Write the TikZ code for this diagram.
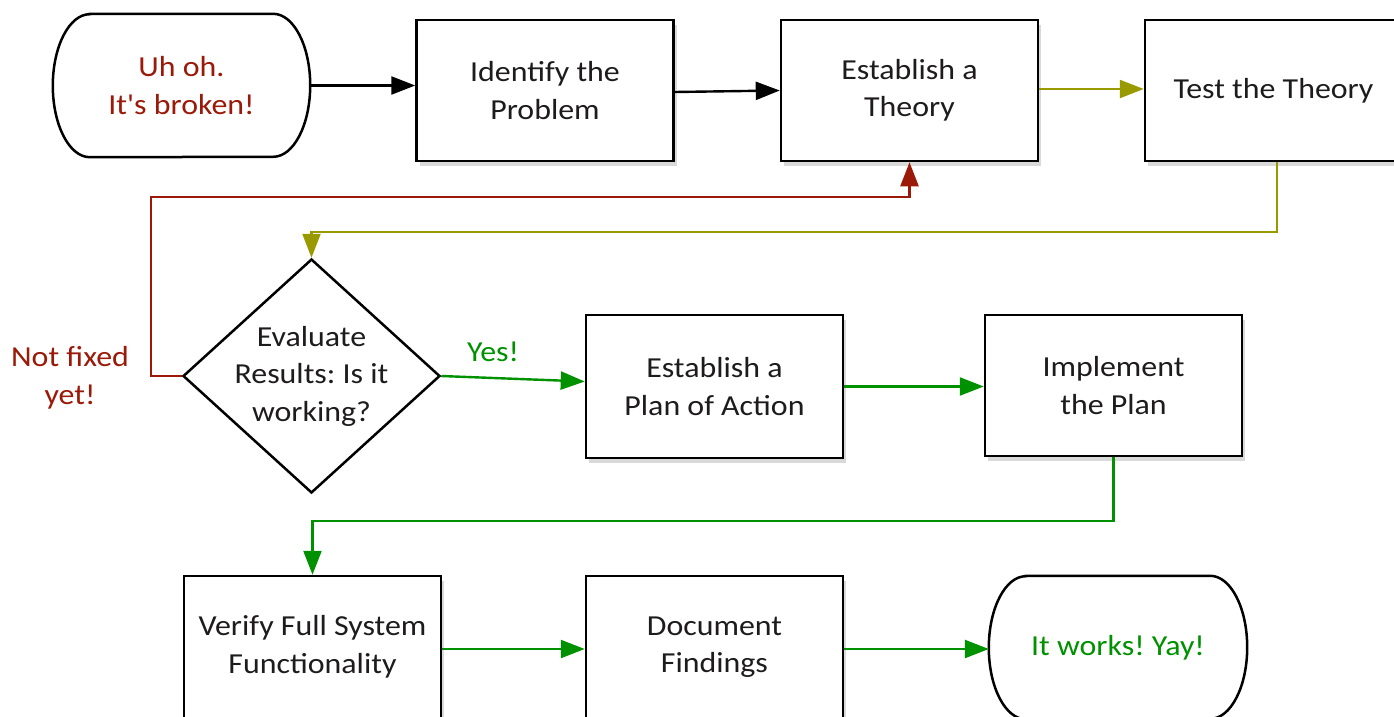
\documentclass[tikz,border=0pt]{standalone}
\usepackage{fontspec}
\setmainfont{Carlito}[FakeStretch=1.1, Ligatures=TeXOff]
\usetikzlibrary{arrows.meta,shapes.geometric,shadows,calc}
\definecolor{txt}{RGB}{30,27,28}
\definecolor{dred}{RGB}{155,25,8}
\definecolor{oliv}{RGB}{153,153,0}
\definecolor{grn}{RGB}{0,145,0}
\newcommand{\termpath}[1]{\draw[line width=2.5pt] ([xshift=37pt]#1.north west) -- ([xshift=-37pt]#1.north east) arc[start angle=90,end angle=-90,x radius=37pt,y radius=71.5pt] -- ([xshift=37pt]#1.south west) arc[start angle=270,end angle=90,x radius=37pt,y radius=71.5pt] -- cycle;}
\frenchspacing
\begin{document}
\begin{tikzpicture}[x=1pt,y=-1pt,
  lbl/.style={font=\fontsize{29}{37.5}\selectfont, align=center, text=txt},
  box/.style={lbl, draw=black, line width=2.5pt, fill=white, rectangle, minimum width=257pt, minimum height=141pt, inner sep=0pt, drop shadow={opacity=0.3, shadow xshift=3pt, shadow yshift=-5pt}},
  term/.style={lbl, rectangle, minimum width=257pt, minimum height=143pt, inner sep=0pt},
  dec/.style={lbl, draw=black, line width=2.5pt, diamond, aspect=1.1, minimum width=257pt, minimum height=234pt, inner sep=-8pt},
  conn/.style={line width=2.4pt, -{Triangle[length=24pt,width=18pt]}},
]
\useasboundingbox (0,0) rectangle (1394,717);
\clip (0,0) rectangle (1394,717);
% nodes
\node[term, text=dred] (start) at (181.5,85.5) {Uh oh.\\It's broken!};
\termpath{start}
\node[box] (ident) at (545,90.5) {Identify the\\Problem};
\node[box] (theory) at (909.5,90.5) {Establish a\\Theory};
\node[box] (test) at (1273.5,90.5) {\raisebox{-2pt}{Test the Theory}};
\node[dec] (diam) at (311.5,376) {Evaluate\\Results: Is it\\working?};
\node[box, minimum height=143pt] (plan) at (714.5,386.5) {Establish a\\Plan of Action};
\node[box] (impl) at (1113.5,385.5) {Implement\\the Plan};
\node[box, minimum height=142pt] (verify) at (312.5,647) {Verify Full System\\Functionality};
\node[box, minimum height=142pt] (doc) at (714.5,647) {Document\\Findings};
\node[term, minimum width=258pt, text=grn] (end) at (1118,647.5) {\raisebox{-3pt}{It works! Yay!}};
\termpath{end}
\node[lbl, text=dred] (nf) at (70,378) {Not fixed\\yet!};
\node[lbl, text=grn] (yes) at (493,352) {Yes!};
% connectors
\draw[conn, black] (start.east) -- (start.east -| ident.west);
\draw[conn, black] ($(ident.east)+(0,1.5)$) -- (theory.west);
\draw[conn, oliv] ($(theory.east)+(0,-1.5)$) -- ($(test.west)+(0,-1.5)$);
\draw[conn, oliv, line width=2.2pt] ($(test.south)+(3.5,0)$) -- ++(0,70) -| (diam.north);
\draw[conn, dred] (diam.west) -- ++(-31,0) |- ($(theory.south)+(0,35)$) -- (theory.south);
\draw[conn, grn] (diam.east) -- ($(plan.west)+(0,-5)$);
\draw[conn, grn] (plan.east) -- (plan.east -| impl.west);
\draw[conn, grn] (impl.south) -- ++(0,64) -| (verify.north);
\draw[conn, grn] ($(verify.east)+(0,2)$) -- ($(doc.west)+(0,2)$);
\draw[conn, grn] ($(doc.east)+(0,2)$) -- ($(doc.east -| end.west)+(0,2)$);
\end{tikzpicture}
\end{document}
